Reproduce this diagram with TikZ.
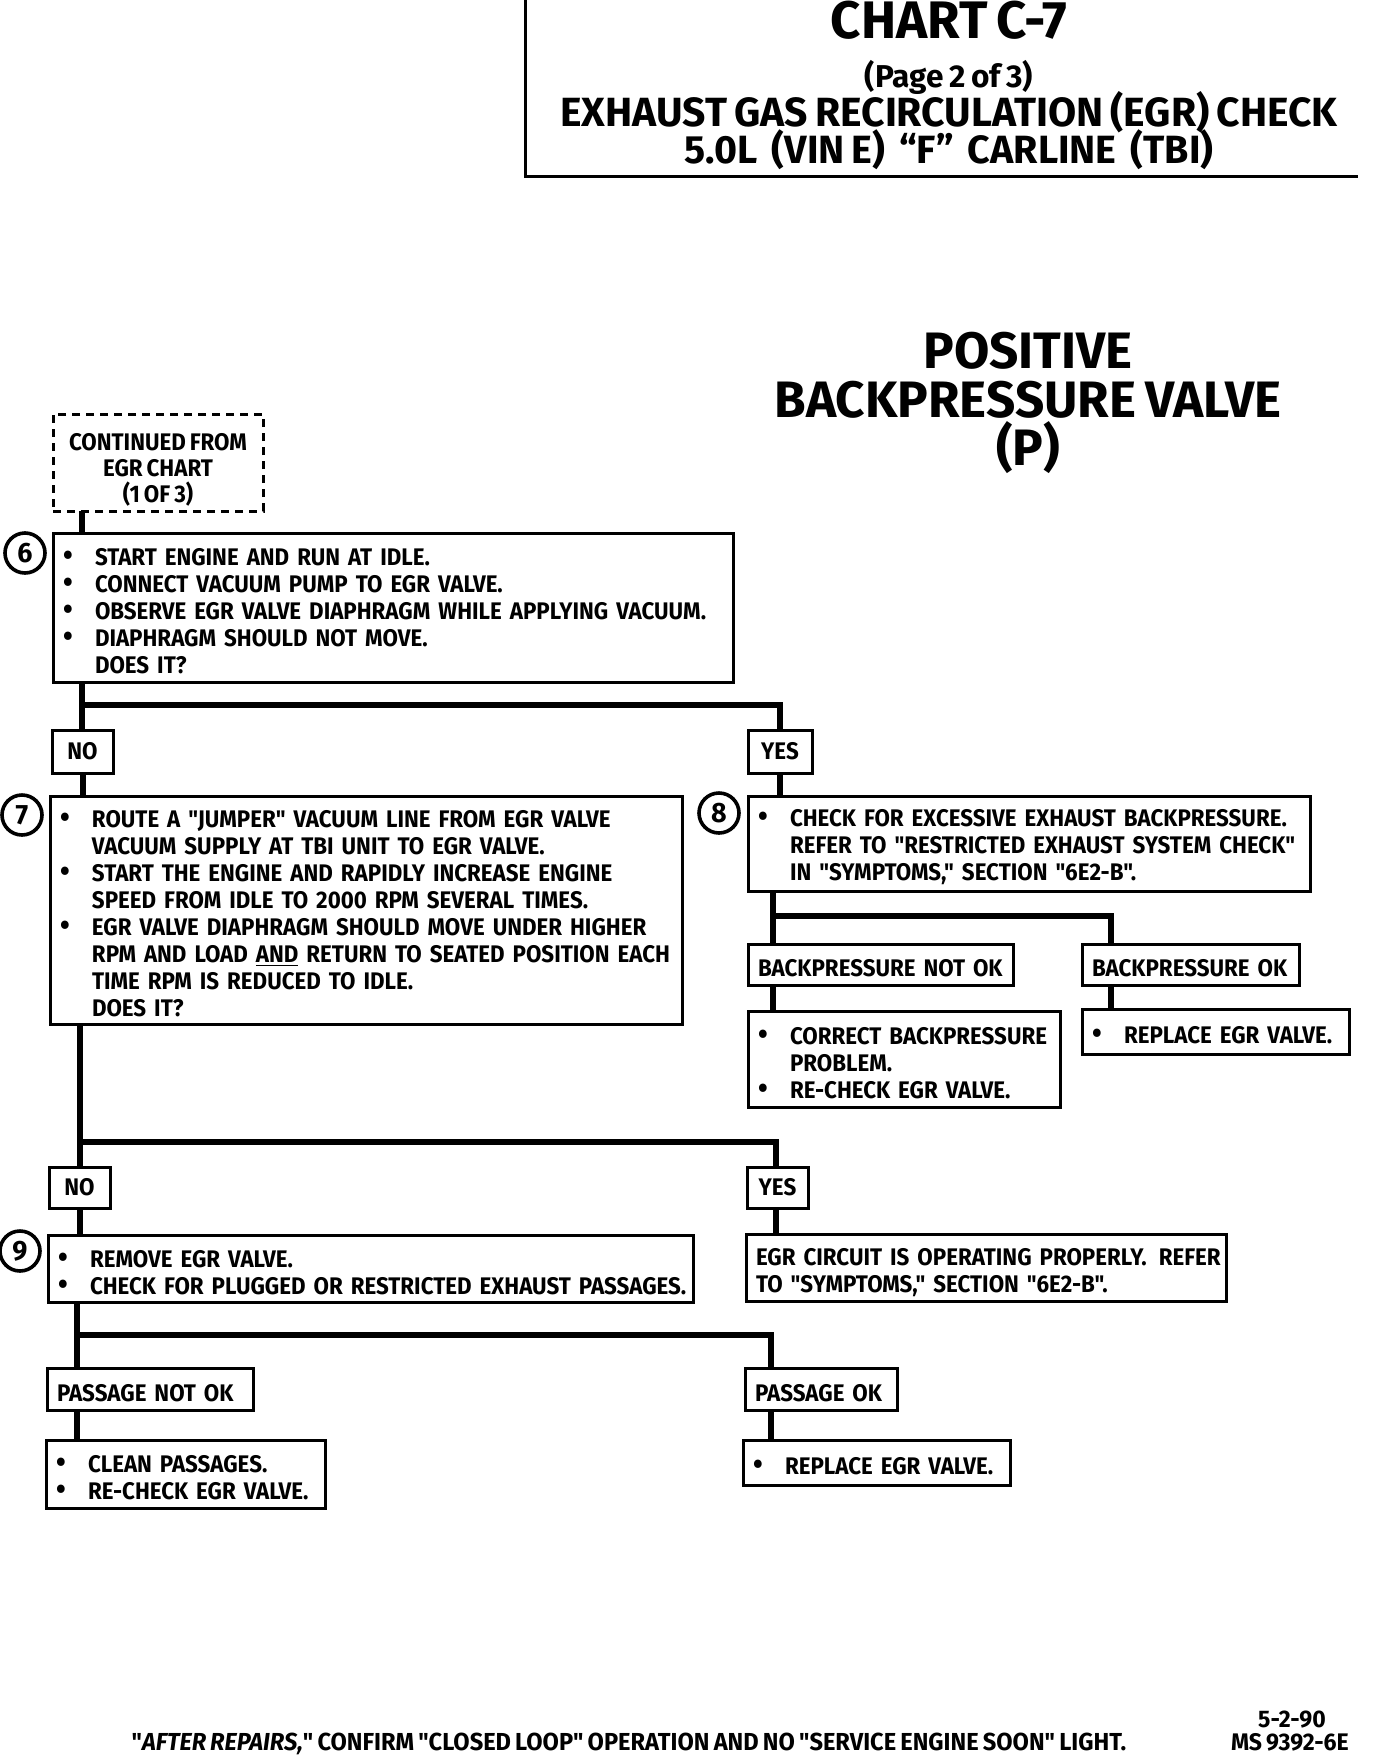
\documentclass[tikz,border=0pt]{standalone}
\usepackage{fontspec}
\setmainfont{Fira Sans}[FakeStretch=0.96, WordSpace=0.75, Ligatures=TeXOff]
\newfontfamily\boxfont{Fira Sans}[FakeStretch=0.93, WordSpace=0.75, Ligatures=TeXOff]
\newfontfamily\titlefont{Fira Sans}[FakeStretch=1.0, WordSpace=0.75, Ligatures=TeXOff]
\newcommand\bl[1]{\mbox{\makebox[16pt][l]{\fontsize{15}{10}\selectfont •}#1}}
\newcommand\ind[1]{\mbox{\hspace*{16pt}#1}}
\begin{document}
\begin{tikzpicture}[x=0.5pt,y=-0.5pt,
  every node/.style={inner sep=0pt, outer sep=0pt},
  txt/.style={font=\boxfont\bfseries\fontsize{12}{13.5}\selectfont},
  box/.style={txt, draw, line width=1.5pt, anchor=north west, inner xsep=5pt, align=left,
    execute at begin node={\rule{0pt}{12.5pt}}},
  lbl/.style={txt, draw, line width=1.5pt, anchor=north west, align=center},
  num/.style={draw, circle, line width=1.8pt, minimum size=20pt, font=\bfseries\fontsize{14}{14}\selectfont},
  conn/.style={line width=3pt},
  ttl/.style={anchor=base, text depth=0pt, text height=0.69em},
  ]
\useasboundingbox (0,0) rectangle (1376,1756);
\fill[white] (0,0) rectangle (1376,1756);
% header frame
\draw[line width=1.5pt] (525,0) -- (525,176) -- (1358,176);
\node[ttl, font=\titlefont\bfseries\fontsize{26.4}{26.4}\selectfont] (t1) at (949,39) {CHART C-7};
\node[ttl, font=\titlefont\bfseries\fontsize{15.8}{15.8}\selectfont] (t2) at (949,87) {(Page 2 of 3)};
\node[ttl, font=\titlefont\bfseries\fontsize{20.4}{20.4}\selectfont] (t3) at (949,126) {EXHAUST GAS RECIRCULATION (EGR) CHECK};
\node[ttl, font=\titlefont\bfseries\fontsize{19.7}{19.7}\selectfont] (t4) at (949,163) {5.0L\ \ (VIN E)\ \ “F”\ \ CARLINE\ \ (TBI)};
% section title
\node[ttl, font=\titlefont\bfseries\fontsize{25.6}{25.6}\selectfont] (p1) at (1028,368) {POSITIVE};
\node[ttl, font=\titlefont\bfseries\fontsize{25.6}{25.6}\selectfont] (p2) at (1028,417) {BACKPRESSURE VALVE};
\node[ttl, font=\titlefont\bfseries\fontsize{25.6}{25.6}\selectfont] (p3) at (1028,465) {(P)};
% start
\node[draw, dash pattern=on 4pt off 3pt, line width=1.5pt, anchor=north west, minimum width=105pt, minimum height=48.5pt, align=center, font=\boxfont\bfseries\fontsize{12}{12.8}\selectfont] (dash) at (53,414) {\rule{0pt}{16pt}CONTINUED FROM\\EGR CHART\\(1 OF 3)};
% step 6
\node[box, minimum width=340pt, minimum height=74.5pt, text width=330pt] (b6) at (53,533)
 {\bl{START ENGINE AND RUN AT IDLE.}\\\bl{CONNECT VACUUM PUMP TO EGR VALVE.}\\\bl{OBSERVE EGR VALVE DIAPHRAGM WHILE APPLYING VACUUM.}\\\bl{DIAPHRAGM SHOULD NOT MOVE.}\\\ind{DOES IT?}};
\node[num] (c6) at (25,553) {6};
\node[lbl, minimum width=30.5pt, minimum height=21.5pt] (no1) at (52,730) {NO};
\node[lbl, minimum width=32pt, minimum height=21.5pt] (yes1) at (748,730) {YES};
% step 7
\node[box, minimum width=316pt, minimum height=114pt, text width=306pt] (b7) at (50,796)
 {\bl{ROUTE A "JUMPER" VACUUM LINE FROM EGR VALVE}\\\ind{VACUUM SUPPLY AT TBI UNIT TO EGR VALVE.}\\\bl{START THE ENGINE AND RAPIDLY INCREASE ENGINE}\\\ind{SPEED FROM IDLE TO 2000 RPM SEVERAL TIMES.}\\\bl{EGR VALVE DIAPHRAGM SHOULD MOVE UNDER HIGHER}\\\ind{RPM AND LOAD \underline{AND} RETURN TO SEATED POSITION EACH}\\\ind{TIME RPM IS REDUCED TO IDLE.}\\\ind{DOES IT?}};
\node[num] (c7) at (22,815) {7};
% step 8
\node[box, minimum width=281pt, minimum height=47.5pt, text width=271pt] (b8) at (748,796)
 {\bl{CHECK FOR EXCESSIVE EXHAUST BACKPRESSURE.}\\\ind{REFER TO "RESTRICTED EXHAUST SYSTEM CHECK"}\\\ind{IN "SYMPTOMS," SECTION "6E2-B".}};
\node[num] (c8) at (719,813) {8};
\node[box, minimum width=132.5pt, minimum height=20.5pt, text width=122.5pt] (bpn) at (748,944) {\mbox{BACKPRESSURE NOT OK}};
\node[box, minimum width=108.5pt, minimum height=20.5pt, text width=98.5pt] (bpo) at (1082,944) {\mbox{BACKPRESSURE OK}};
\node[box, minimum width=156pt, minimum height=48pt, text width=146pt] (bpnr) at (748,1011)
 {\bl{CORRECT BACKPRESSURE}\\\ind{PROBLEM.}\\\bl{RE-CHECK EGR VALVE.}};
\node[box, minimum width=133.5pt, minimum height=22.5pt, text width=123.5pt] (bpor) at (1082,1009) {\bl{REPLACE EGR VALVE.}};
% second decision
\node[lbl, minimum width=30.5pt, minimum height=20.5pt] (no2) at (49,1167) {NO};
\node[lbl, minimum width=30.5pt, minimum height=20.5pt] (yes2) at (747,1167) {YES};
\node[box, minimum width=322.5pt, minimum height=33.5pt, text width=312.5pt] (b9) at (48,1235)
 {\bl{REMOVE EGR VALVE.}\\\bl{CHECK FOR PLUGGED OR RESTRICTED EXHAUST PASSAGES.}};
\node[num] (c9) at (20,1251) {9};
\node[box, minimum width=240pt, minimum height=33.5pt, text width=230pt, execute at begin node={\rule{0pt}{14pt}}] (yr) at (746,1234)
 {\mbox{EGR CIRCUIT IS OPERATING PROPERLY.\, REFER}\\\mbox{TO "SYMPTOMS," SECTION "6E2-B".}};
\node[box, minimum width=103pt, minimum height=21pt, text width=93pt] (pn) at (47,1368) {\mbox{PASSAGE NOT OK}};
\node[box, minimum width=76pt, minimum height=21pt, text width=66pt] (po) at (745,1368) {\mbox{PASSAGE OK}};
\node[box, minimum width=139.5pt, minimum height=34pt, text width=129.5pt] (pnr) at (46,1440)
 {\bl{CLEAN PASSAGES.}\\\bl{RE-CHECK EGR VALVE.}};
\node[box, minimum width=133.5pt, minimum height=22.5pt, text width=123.5pt] (por) at (743,1440) {\bl{REPLACE EGR VALVE.}};
% footer
\node[ttl, font=\bfseries\fontsize{12.3}{12.3}\selectfont] (foot) at (629,1750) {"\textit{AFTER REPAIRS,}" CONFIRM "CLOSED LOOP" OPERATION AND NO "SERVICE ENGINE SOON" LIGHT.};
\node[ttl, font=\bfseries\fontsize{12}{12}\selectfont] (date) at (1292,1727) {5-2-90};
\node[ttl, font=\bfseries\fontsize{12}{12}\selectfont] (code) at (1290,1750) {MS 9392-6E};
% connectors
\coordinate (xa) at (82,0);
\coordinate (h1) at (0,705);
\draw[conn] (xa |- dash.south) -- (xa |- b6.north);
\draw[conn] (xa |- b6.south) -- (xa |- no1.north);
\draw[conn] (xa |- h1) -| (yes1.north);
\draw[conn] (no1.south) -- (no1.south |- b7.north);
\draw[conn] (yes1.south) -- (yes1.south |- b8.north);
\coordinate (xb) at (773,0);
\coordinate (xc) at (1111,0);
\coordinate (h2) at (0,916);
\draw[conn] (xb |- b8.south) -- (xb |- bpn.north);
\draw[conn] (xb |- h2) -| (xc |- bpo.north);
\draw[conn] (xb |- bpn.south) -- (xb |- bpnr.north);
\draw[conn] (xc |- bpo.south) -- (xc |- bpor.north);
\coordinate (xd) at (80,0);
\coordinate (xe) at (776,0);
\coordinate (h3) at (0,1142);
\draw[conn] (xd |- b7.south) -- (xd |- no2.north);
\draw[conn] (xd |- h3) -| (xe |- yes2.north);
\draw[conn] (xd |- no2.south) -- (xd |- b9.north);
\draw[conn] (xe |- yes2.south) -- (xe |- yr.north);
\coordinate (xf) at (77,0);
\coordinate (xg) at (771,0);
\coordinate (h4) at (0,1335);
\draw[conn] (xf |- b9.south) -- (xf |- pn.north);
\draw[conn] (xf |- h4) -| (xg |- po.north);
\draw[conn] (xf |- pn.south) -- (xf |- pnr.north);
\draw[conn] (xg |- po.south) -- (xg |- por.north);
\end{tikzpicture}
\end{document}
